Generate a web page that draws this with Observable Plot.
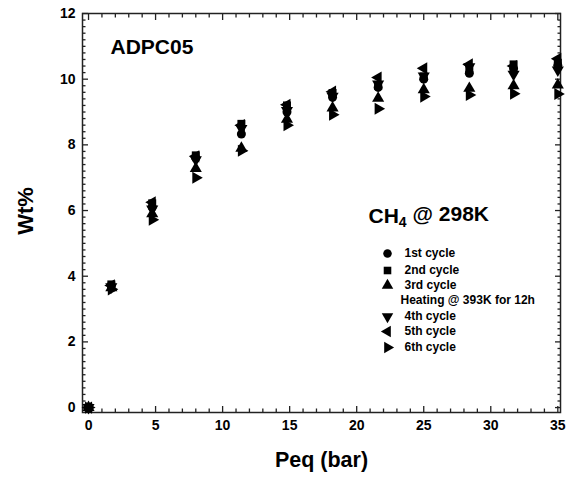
<!DOCTYPE html>
<html>
<head>
<meta charset="utf-8">
<script src="https://cdn.jsdelivr.net/npm/d3@7"></script>
<script src="https://cdn.jsdelivr.net/npm/@observablehq/plot@0.6"></script>
<style>
  html, body { margin: 0; padding: 0; background: #fff; }
  #chart svg { display: block; }
</style>
</head>
<body>
<div id="chart"></div>
<script>
// Data
const pressure = [0, 1.7, 4.75, 8.0, 11.4, 14.8, 18.2, 21.6, 25.0, 28.4, 31.7, 35.0];
const cycle1 = [0, 3.72, 6.10, 7.60, 8.33, 9.00, 9.45, 9.75, 10.00, 10.18, 10.32, 10.42];
const cycle2 = [0, 3.75, 6.22, 7.68, 8.64, 9.20, 9.58, 9.80, 10.08, 10.30, 10.45, 10.50];
const cycle3 = [0, 3.65, 5.90, 7.28, 7.90, 8.78, 9.12, 9.42, 9.68, 9.72, 9.80, 9.82];
const cycle4 = [0, 3.68, 6.05, 7.55, 8.50, 9.05, 9.48, 9.85, 10.10, 10.38, 10.15, 10.28];
const cycle5 = [0, 3.72, 6.25, 7.65, 8.60, 9.22, 9.62, 10.05, 10.33, 10.45, 10.40, 10.62];
const cycle6 = [0, 3.60, 5.72, 7.00, 7.82, 8.60, 8.92, 9.10, 9.47, 9.52, 9.56, 9.55];
const cycleNames = ["1st cycle", "2nd cycle", "3rd cycle", "4th cycle", "5th cycle", "6th cycle"];
const xTicks = [0, 5, 10, 15, 20, 25, 30, 35];
const yTicks = [0, 2, 4, 6, 8, 10, 12];
const sampleLabel = "ADPC05";
const conditionLabel = "CH4 @ 298K";
const heatingLabel = "Heating @ 393K for 12h";

function tri(angle) {
  return {
    draw(ctx, size) {
      const s3 = Math.sqrt(3);
      const y = -Math.sqrt(size / (s3 * 3));
      const pts = [[0, y * 2], [-s3 * y, -y], [s3 * y, -y]];
      const c = Math.cos(angle), si = Math.sin(angle);
      pts.forEach(([px, py], i) => {
        const X = px * c - py * si, Y = px * si + py * c;
        if (i) ctx.lineTo(X, Y); else ctx.moveTo(X, Y);
      });
      ctx.closePath();
    }
  };
}
const symbols = ["circle", "square", tri(0), tri(Math.PI), tri(-Math.PI / 2), tri(Math.PI / 2)];
const series = [cycle1, cycle2, cycle3, cycle4, cycle5, cycle6];

const minorX = d3.range(0, 36).filter(d => d % 5 !== 0);
const minorY = d3.range(0, 61).filter(i => i % 10 !== 0).map(i => i / 5);

const R = 4.5;
const legendRows = [
  {name: cycleNames[0], sym: 0, dy: 240},
  {name: cycleNames[1], sym: 1, dy: 257},
  {name: cycleNames[2], sym: 2, dy: 272},
  {name: cycleNames[3], sym: 3, dy: 303},
  {name: cycleNames[4], sym: 4, dy: 318},
  {name: cycleNames[5], sym: 5, dy: 334}
];

const dataMarks = series.map((vals, k) =>
  Plot.dot(pressure.map((p, i) => ({P: p, W: vals[i], cycle: cycleNames[k]})), {
    x: "P", y: "W", symbol: symbols[k], r: R, fill: "black", stroke: "none"
  })
);

const legendMarks = legendRows.flatMap(row => [
  Plot.dot([row], {frameAnchor: "top-left", dx: 305, dy: row.dy, symbol: symbols[row.sym], r: R * 0.95, fill: "black", stroke: "none"}),
  Plot.text([row], {frameAnchor: "top-left", dx: 322, dy: row.dy, text: d => d.name, textAnchor: "start", lineAnchor: "middle", fontSize: 12, fontWeight: "bold", fill: "black"})
]);

const tickStyle = {text: null, label: null, stroke: "#222", strokeWidth: 1.3};

const plot = Plot.plot({
  width: 580,
  height: 477,
  marginLeft: 82,
  marginRight: 20,
  marginTop: 13,
  marginBottom: 65,
  style: {fontFamily: "'Liberation Sans', Arial, sans-serif", background: "#fff", color: "#000"},
  x: {domain: [-0.45, 35.2], label: null},
  y: {domain: [-0.15, 12], label: null},
  marks: [
    // tick marks (inward)
    Plot.axisX({anchor: "bottom", ticks: xTicks, tickSize: -6, ...tickStyle}),
    Plot.axisX({anchor: "bottom", ticks: minorX, tickSize: -3.5, ...tickStyle}),
    Plot.axisX({anchor: "top", ticks: xTicks, tickSize: -6, ...tickStyle}),
    Plot.axisX({anchor: "top", ticks: minorX, tickSize: -3.5, ...tickStyle}),
    Plot.axisY({anchor: "left", ticks: yTicks, tickSize: -6, ...tickStyle}),
    Plot.axisY({anchor: "left", ticks: minorY, tickSize: -3.5, ...tickStyle}),
    Plot.axisY({anchor: "right", ticks: yTicks, tickSize: -6, ...tickStyle}),
    Plot.axisY({anchor: "right", ticks: minorY, tickSize: -3.5, ...tickStyle}),
    // tick labels
    Plot.axisX({anchor: "bottom", ticks: xTicks, tickSize: 0, tickPadding: 8, label: null, fontSize: 14, fontWeight: "bold", fill: "black"}),
    Plot.axisY({anchor: "left", ticks: yTicks, tickSize: 0, tickPadding: 7, label: null, fontSize: 14, fontWeight: "bold", fill: "black"}),
    Plot.frame({stroke: "#222", strokeWidth: 1.5}),
    // axis titles
    Plot.text(["Peq (bar)"], {frameAnchor: "bottom", dy: 48, text: d => d, textAnchor: "middle", lineAnchor: "middle", fontSize: 21.5, fontWeight: "bold", fill: "black"}),
    Plot.text(["Wt%"], {frameAnchor: "left", dx: -57, dy: -2, text: d => d, rotate: -90, textAnchor: "middle", lineAnchor: "middle", fontSize: 22, fontWeight: "bold", fill: "black"}),
    ...dataMarks,
    // annotations
    Plot.text([sampleLabel], {frameAnchor: "top-left", dx: 28, dy: 34, text: d => d, textAnchor: "start", lineAnchor: "middle", fontSize: 21, fontWeight: "bold", fill: "black"}),
    Plot.text([conditionLabel], {frameAnchor: "top-left", dx: 286, dy: 203, text: d => d, textAnchor: "start", lineAnchor: "middle", fontSize: 21, fontWeight: "bold", fill: "black"}),
    Plot.text([heatingLabel], {frameAnchor: "top-left", dx: 318, dy: 287, text: d => d, textAnchor: "start", lineAnchor: "middle", fontSize: 12, fontWeight: "bold", fill: "black"}),
    ...legendMarks
  ]
});

// subscript for CH4
d3.select(plot).selectAll("text").each(function() {
  if (this.textContent === conditionLabel) {
    const t = d3.select(this);
    t.text(null);
    t.append("tspan").text("CH");
    t.append("tspan").attr("dy", "0.3em").attr("font-size", 14).text("4");
    t.append("tspan").attr("dy", "-0.3em").text(" @ 298K");
  }
});

document.getElementById("chart").appendChild(plot);
</script>
</body>
</html>
